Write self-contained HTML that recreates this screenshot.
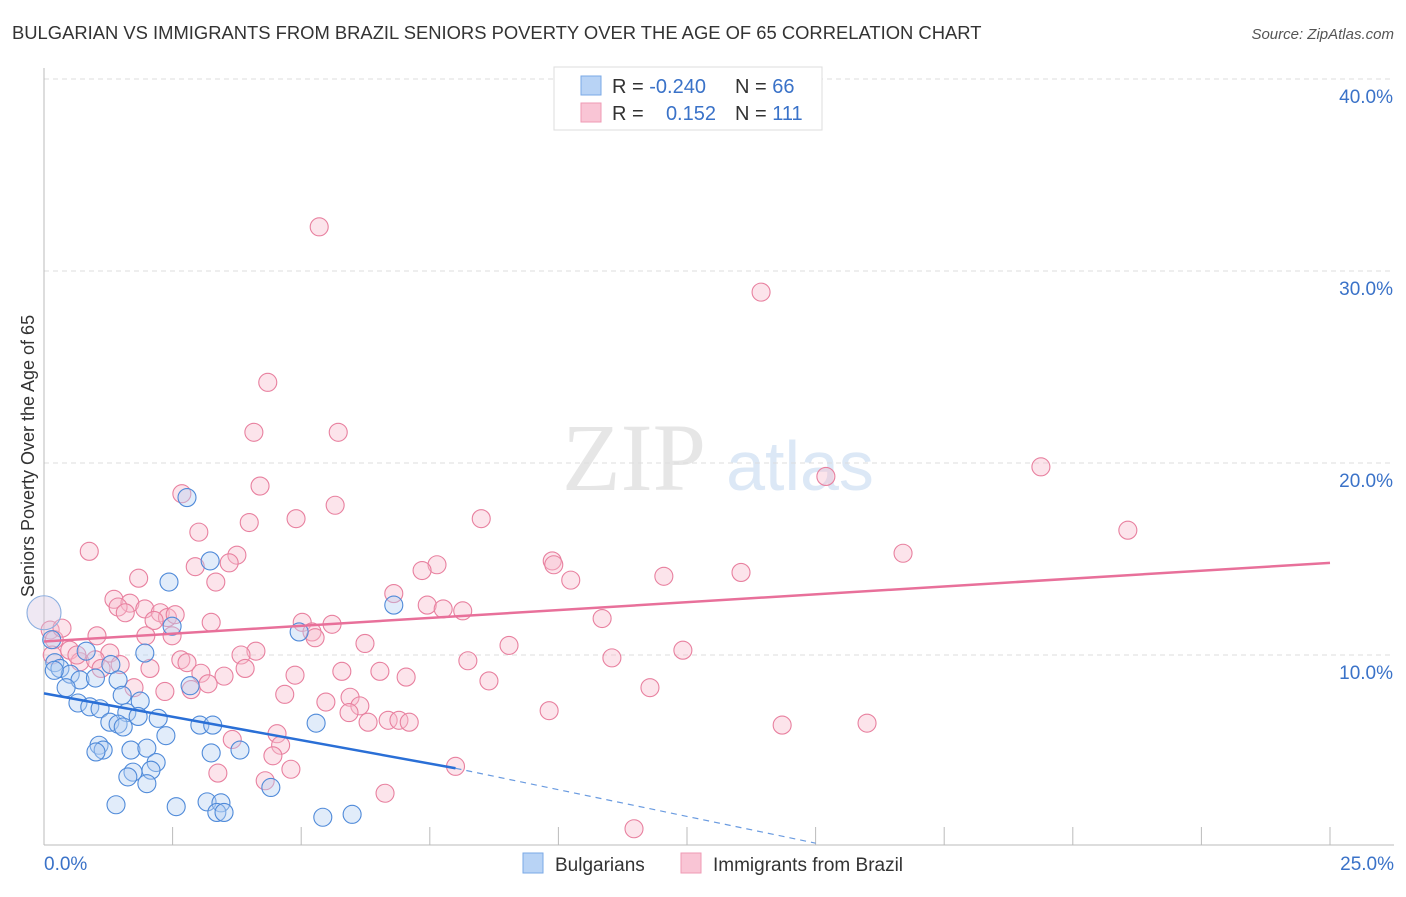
<!DOCTYPE html>
<html><head><meta charset="utf-8"><style>
body{margin:0;background:#fff;font-family:"Liberation Sans",sans-serif}
</style></head><body>
<svg id="c" width="1406" height="892" xmlns="http://www.w3.org/2000/svg" font-family="Liberation Sans, sans-serif">
<text x="12" y="39" font-size="18.4" fill="#333">BULGARIAN VS IMMIGRANTS FROM BRAZIL SENIORS POVERTY OVER THE AGE OF 65 CORRELATION CHART</text>
<text x="1394" y="39" font-size="15" fill="#555" text-anchor="end" font-style="italic">Source: ZipAtlas.com</text>
<text x="634" y="490" font-size="96" fill="#e6e6e6" font-family="Liberation Serif, serif" text-anchor="middle">ZIP</text>
<text x="800" y="490" font-size="70" fill="#dce8f6" text-anchor="middle">atlas</text>
<g id="grid"></g><g id="axes"></g><g id="pts"></g><g id="lines"></g>
<text transform="translate(34,456) rotate(-90)" font-size="18" fill="#333" text-anchor="middle">Seniors Poverty Over the Age of 65</text>
<g>
<rect x="554" y="67" width="268" height="63" fill="#fff" stroke="#ddd"/>
<rect x="581" y="76" width="20" height="19" fill="#b8d3f5" stroke="#7aa8e6"/>
<rect x="581" y="103" width="20" height="19" fill="#f9c5d5" stroke="#ef9ab4"/>
<text x="612" y="93" font-size="20" fill="#333">R = <tspan fill="#3a72c8">-0.240</tspan></text>
<text x="735" y="93" font-size="20" fill="#333">N = <tspan fill="#3a72c8">66</tspan></text>
<text x="612" y="120" font-size="20" fill="#333">R = </text>
<text x="716" y="120" font-size="20" fill="#3a72c8" text-anchor="end">0.152</text>
<text x="735" y="120" font-size="20" fill="#333">N = <tspan fill="#3a72c8">111</tspan></text>
</g>
<g>
<rect x="523" y="853" width="20" height="20" fill="#b8d3f5" stroke="#7aa8e6"/>
<text x="555" y="871" font-size="19" fill="#333">Bulgarians</text>
<rect x="681" y="853" width="20" height="20" fill="#f9c5d5" stroke="#ef9ab4"/>
<text x="713" y="871" font-size="19" fill="#333">Immigrants from Brazil</text>
</g>
</svg>
<script>
const xTicks=[0,2.5,5,7.5,10,12.5,15,17.5,20,22.5,25];
const yTicks=[10,20,30,40];
const yTickLabels=["10.0%","20.0%","30.0%","40.0%"];
const blueX=[2.78,3.23,2.43,6.8,4.96,2.49,1.96,0.82,1.30,0.21,0.31,0.51,0.70,1.0,0.43,1.44,1.52,2.84,1.87,0.66,0.89,1.09,1.61,2.22,1.83,1.28,1.44,1.54,2.37,3.03,3.28,5.29,1.07,1.15,1.01,1.69,2.0,3.25,3.81,2.18,1.73,1.63,2.08,2.0,4.41,1.40,2.57,3.17,3.44,3.36,3.5,5.42,5.99,0.15,0.2];
const blueY=[18.2,14.9,13.8,12.6,11.2,11.5,10.1,10.2,9.5,9.6,9.3,9.0,8.7,8.8,8.3,8.7,7.9,8.4,7.6,7.5,7.3,7.2,7.0,6.7,6.8,6.5,6.4,6.25,5.8,6.35,6.35,6.45,5.3,5.05,4.95,5.05,5.15,4.9,5.05,4.4,3.9,3.65,4.0,3.3,3.1,2.2,2.1,2.35,2.3,1.8,1.8,1.55,1.7,10.8,9.2];
const pinkX=[5.35,13.94,4.35,4.08,5.72,19.38,15.2,2.68,4.2,5.66,4.9,8.5,3.99,3.01,21.07,0.88,3.75,16.7,2.94,3.6,9.88,9.91,7.64,7.35,13.55,12.05,10.24,1.84,3.34,6.8,1.36,1.67,1.44,1.58,1.96,2.26,2.4,2.55,2.14,7.45,7.76,8.14,10.85,5.02,5.6,3.25,5.21,5.27,2.49,1.03,1.98,6.24,9.04,4.12,3.83,1.28,12.42,11.04,2.66,2.06,2.78,3.91,8.24,4.88,5.79,6.53,3.05,7.04,3.5,8.65,3.19,1.75,2.35,2.86,11.78,4.68,5.95,5.48,6.14,5.93,9.82,6.3,6.69,6.9,7.1,14.35,16.0,3.66,4.53,4.6,4.45,4.8,3.38,4.3,8.0,6.63,11.47,0.12,0.2,0.35,0.5,0.7,0.64,0.16,1.0,1.48,1.11];
const pinkY=[32.3,28.9,24.2,21.6,21.6,19.8,19.3,18.4,18.8,17.8,17.1,17.1,16.9,16.4,16.5,15.4,15.2,15.3,14.6,14.8,14.9,14.7,14.7,14.4,14.3,14.1,13.9,14.0,13.8,13.2,12.9,12.7,12.5,12.2,12.4,12.2,11.95,12.1,11.8,12.6,12.4,12.3,11.9,11.7,11.6,11.7,11.2,10.9,11.0,11.0,11.0,10.6,10.5,10.2,10.0,10.1,10.25,9.85,9.75,9.3,9.6,9.3,9.7,8.95,9.15,9.15,9.05,8.85,8.9,8.65,8.5,8.3,8.1,8.2,8.3,7.95,7.8,7.55,7.35,7.0,7.1,6.5,6.6,6.6,6.5,6.35,6.45,5.6,5.9,5.3,4.75,4.05,3.85,3.45,4.2,2.8,0.95,11.3,10.8,11.4,10.25,9.65,10.0,10.0,9.75,9.5,9.3];
const bigX=[0,0],bigY=[12.2,12.2];
const blueTrend=[[0,8.0],[8.0,4.1],[15.0,0.2]];
const pinkTrend=[[0,10.7],[25,14.8]];
const NS="http://www.w3.org/2000/svg";
const X=v=>44+v*51.44, Y=v=>847-v*19.2;
function mk(tag,attrs,parent){const e=document.createElementNS(NS,tag);for(const k in attrs)e.setAttribute(k,attrs[k]);document.getElementById(parent).appendChild(e);return e;}
yTicks.forEach((t,i)=>{
 const g=mk('line',{x1:44,x2:1394,y1:Y(t),y2:Y(t),stroke:'#ddd','stroke-dasharray':'5,4'},'grid');
 
 
 const l=mk('text',{x:1393,y:Y(t)+24,'font-size':19,fill:'#3a72c8','text-anchor':'end'},'grid');
 l.textContent=yTickLabels[i];
 
 
});
const ax=mk('line',{x1:44,x2:44,y1:68,y2:845,stroke:'#bbb'},'axes');


const bx=mk('line',{x1:44,x2:1394,y1:845,y2:845,stroke:'#bbb'},'axes');


xTicks.forEach(t=>{const k=mk('line',{x1:X(t),x2:X(t),y1:827,y2:845,stroke:'#bbb'},'axes');
 
 });
const t0=mk('text',{x:44,y:870,'font-size':19,fill:'#3a72c8'},'axes');t0.textContent='0.0%';


const t1=mk('text',{x:1394,y:870,'font-size':19,fill:'#3a72c8','text-anchor':'end'},'axes');t1.textContent='25.0%';


function dot(x,y,r,fill,stroke,name){const c=mk('circle',{cx:X(x),cy:Y(y),r:r,fill:fill,'fill-opacity':0.4,stroke:stroke,'stroke-width':1.1},'pts');
 
 }
pinkX.forEach((x,i)=>dot(x,pinkY[i],9,'#f7bccd','#e8809f','brazil-point'));
blueX.forEach((x,i)=>dot(x,blueY[i],9,'#b3d0f2','#4f8ad9','bulgarian-point'));
dot(bigX[0],bigY[0],17,'#d8c6e0','#8aaee0','bulgarian-point');
function seg(a,b,col,dash,name){const l=mk('line',{x1:X(a[0]),y1:Y(a[1]),x2:X(b[0]),y2:Y(b[1]),stroke:col,'stroke-width':dash?1.2:2.5},'lines');
 if(dash)l.setAttribute('stroke-dasharray','6,5');
 
 }
seg(blueTrend[0],blueTrend[1],'#2a6fd6',false,'bulgarian-trend-line');
seg(blueTrend[1],blueTrend[2],'#6a9be0',true,'bulgarian-trend-extension');
seg(pinkTrend[0],pinkTrend[1],'#e8709a',false,'brazil-trend-line');
</script>
</body></html>
